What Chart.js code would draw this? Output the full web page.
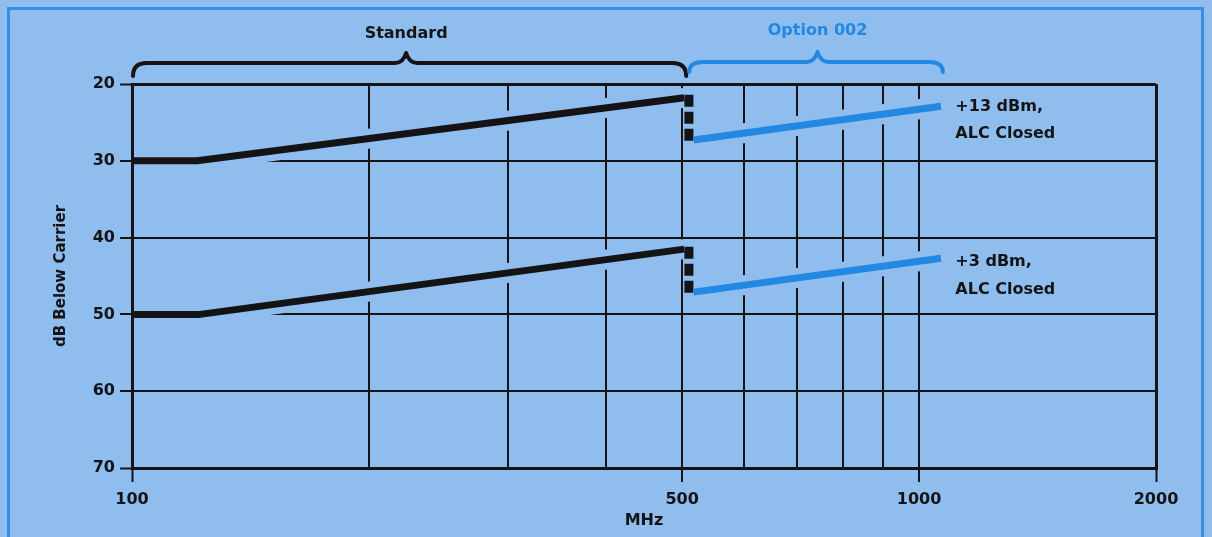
<!DOCTYPE html>
<html><head><meta charset="utf-8">
<script src="https://cdn.jsdelivr.net/npm/chart.js@4.4.1/dist/chart.umd.min.js"></script>
<style>html,body{margin:0;padding:0;background:#8fbdee;overflow:hidden}#wrap{width:1212px;height:537px}</style>
</head><body><div id="wrap"><canvas id="c" width="1212" height="537"></canvas></div>
<script>
// ---- data ----
const xGridTicks = [100, 200, 300, 400, 500, 600, 700, 800, 900, 1000, 2000];
const xLabelTicks = [100, 500, 1000, 2000];
const yTicks = [20, 30, 40, 50, 60, 70];

const stdFreq13 = [100, 121, 503];
const std13 = [30, 30, 21.8];
const stdFreq3 = [100, 122, 503];
const std3 = [50, 50, 41.5];

const stepFreq = [510, 510];
const step13 = [21.4, 27.9];
const step3 = [41.2, 47.6];

const optFreq = [517, 1066];
const opt13 = [27.3, 22.9];
const opt3 = [47.1, 42.7];

const stdRange = [100, 506];
const optRange = [509, 1072];

const noteFreq = 1112;
const note13 = ['+13 dBm,', 'ALC Closed'];
const note13Db = [23.0, 26.5];
const note3 = ['+3 dBm,', 'ALC Closed'];
const note3Db = [43.2, 46.8];

// ---- styles ----
const BG = '#8fbdee';
const FRAME = '#3a8fe4';
const INK = '#141416';
const BLUE = '#2388e2';
const FONT = '"DejaVu Sans", "Liberation Sans", Arial, sans-serif';

const pts = (xs, ys) => xs.map((x, i) => ({x, y: ys[i]}));

function line(xs, ys, color, width, extra) {
  return Object.assign({
    data: pts(xs, ys), borderColor: color, backgroundColor: color, borderWidth: width,
    pointRadius: 0, fill: false, tension: 0, borderJoinStyle: 'round', borderCapStyle: 'butt', order: 0
  }, extra || {});
}
function halo(xs, ys) {
  return line(xs, ys, BG, 20, {order: 10, borderCapStyle: 'round', clip: {left: -2, top: 0, right: 0, bottom: 0}});
}

function brace(ctx, x1, x2, xc, yMain, yEnd, yTip) {
  const r = 14, r2 = 11;
  ctx.beginPath();
  ctx.moveTo(x1, yEnd);
  ctx.quadraticCurveTo(x1, yMain, x1 + r, yMain);
  ctx.lineTo(xc - r2, yMain);
  ctx.quadraticCurveTo(xc - 3, yMain, xc, yTip);
  ctx.quadraticCurveTo(xc + 3, yMain, xc + r2, yMain);
  ctx.lineTo(x2 - r, yMain);
  ctx.quadraticCurveTo(x2, yMain, x2, yEnd);
  ctx.stroke();
}

const deco = {
  id: 'deco',
  beforeDraw(chart) {
    const ctx = chart.ctx;
    ctx.save();
    ctx.fillStyle = BG;
    ctx.fillRect(0, 0, chart.width, chart.height);
    ctx.strokeStyle = FRAME;
    ctx.lineWidth = 3;
    ctx.strokeRect(8.5, 8.5, 1194, 600);
    ctx.restore();
  },
  afterDatasetsDraw(chart) {
    const ctx = chart.ctx, xs = chart.scales.x, ys = chart.scales.y;
    ctx.save();
    ctx.lineWidth = 4;
    ctx.lineCap = 'round';
    ctx.lineJoin = 'round';
    ctx.strokeStyle = INK;
    const s1 = xs.getPixelForValue(stdRange[0]), s2 = xs.getPixelForValue(stdRange[1]);
    const sc = (s1 + s2) / 2 - 3;
    brace(ctx, s1 + 1, s2, sc, 63, 76, 53);
    ctx.strokeStyle = BLUE;
    const o1 = xs.getPixelForValue(optRange[0]), o2 = xs.getPixelForValue(optRange[1]);
    const oc = (o1 + o2) / 2 + 2;
    brace(ctx, o1 + 1, o2, oc, 62, 72, 52);

    ctx.font = 'bold 16px ' + FONT;
    ctx.textAlign = 'center';
    ctx.textBaseline = 'middle';
    ctx.fillStyle = INK;
    ctx.fillText('Standard', sc, 34);
    ctx.fillStyle = BLUE;
    ctx.fillText('Option 002', oc, 31);

    ctx.textAlign = 'left';
    ctx.fillStyle = INK;
    const nx = xs.getPixelForValue(noteFreq);
    note13.forEach((t, i) => ctx.fillText(t, nx, ys.getPixelForValue(note13Db[i])));
    note3.forEach((t, i) => ctx.fillText(t, nx, ys.getPixelForValue(note3Db[i])));
    ctx.restore();
  }
};

new Chart(document.getElementById('c'), {
  type: 'line',
  data: {
    datasets: [
      line(stdFreq13, std13, INK, 7),
      line(stdFreq3, std3, INK, 7),
      line(optFreq, opt13, BLUE, 7),
      line(optFreq, opt3, BLUE, 7),
      line(stepFreq, step13, INK, 9, {borderDash: [12, 5]}),
      line(stepFreq, step3, INK, 9, {borderDash: [12, 5]}),
      halo(stdFreq13, std13),
      halo(stdFreq3, std3),
      halo(optFreq, opt13),
      halo(optFreq, opt3)
    ]
  },
  options: {
    responsive: false,
    animation: false,
    events: [],
    layout: {padding: {top: 84, right: 56, left: 48, bottom: 3}},
    plugins: {legend: {display: false}, tooltip: {enabled: false}},
    scales: {
      x: {
        type: 'logarithmic', min: 100, max: 2000, position: 'bottom',
        afterBuildTicks: s => { s.ticks = xGridTicks.map(v => ({value: v})); },
        afterFit: s => { s.height = 66; },
        ticks: {
          autoSkip: false, maxRotation: 0, padding: 8, color: INK,
          font: {family: FONT, size: 16, weight: 'bold'},
          callback: v => xLabelTicks.includes(v) ? String(v) : ''
        },
        grid: {
          color: INK,
          lineWidth: c => (c.tick && (c.tick.value === 100 || c.tick.value === 2000)) ? 3 : 2,
          tickLength: 14, tickWidth: 2,
          tickColor: c => (c.tick && xLabelTicks.includes(c.tick.value)) ? INK : 'rgba(0,0,0,0)'
        },
        border: {display: true, color: INK, width: 3},
        title: {display: true, text: 'MHz', color: INK, font: {family: FONT, size: 16, weight: 'bold'}, padding: {top: 2, bottom: 4}}
      },
      y: {
        min: 20, max: 70, reverse: true,
        afterBuildTicks: s => { s.ticks = yTicks.map(v => ({value: v})); },
        afterFit: s => { s.width = 84; },
        ticks: {padding: 5, color: INK, font: {family: FONT, size: 16, weight: 'bold'}},
        grid: {
          color: INK,
          lineWidth: c => (c.tick && (c.tick.value === 20 || c.tick.value === 70)) ? 3 : 2,
          tickLength: 12, tickWidth: 2, tickColor: INK
        },
        border: {display: true, color: INK, width: 3},
        title: {display: true, text: 'dB Below Carrier', color: INK, font: {family: FONT, size: 15, weight: 'bold'}, padding: {top: 4, bottom: 4}}
      }
    }
  },
  plugins: [deco]
});
</script></body></html>
